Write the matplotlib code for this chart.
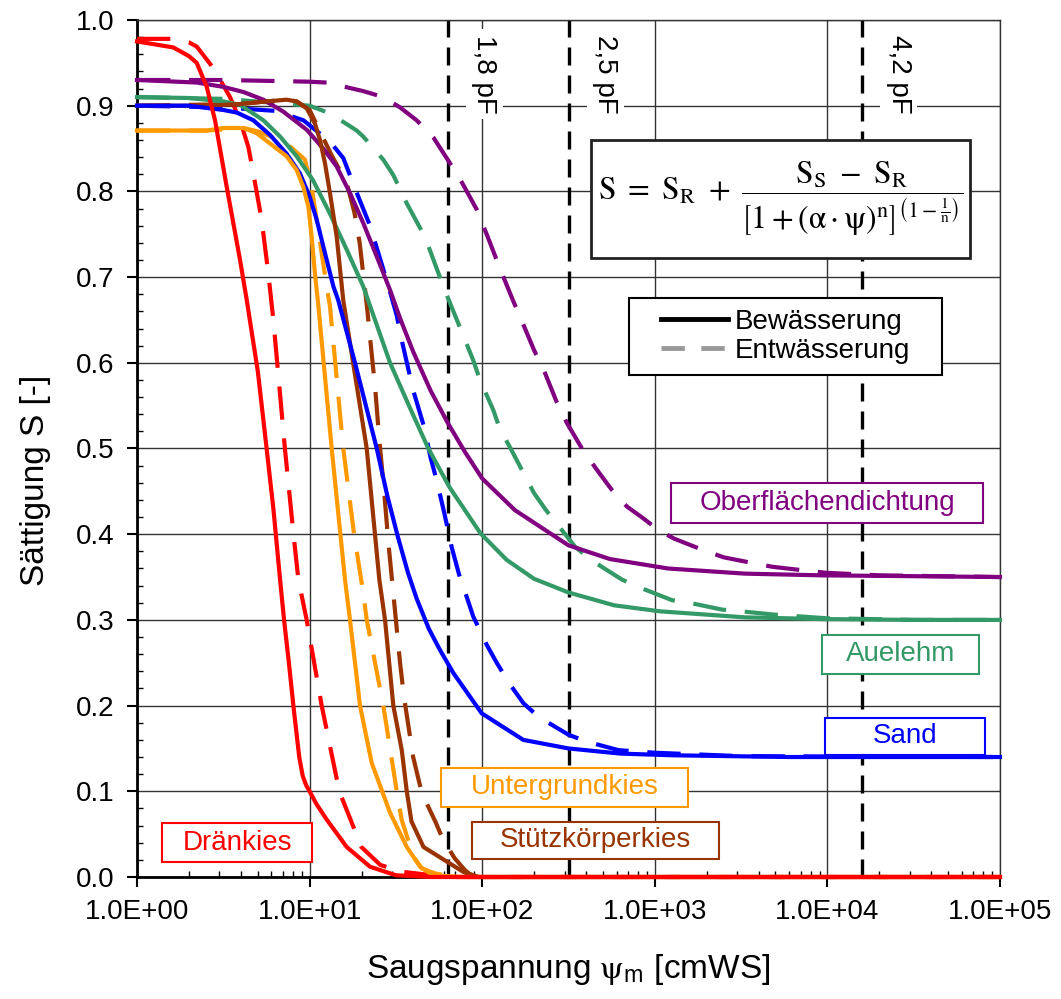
import numpy as np
import matplotlib
matplotlib.use('Agg')
import matplotlib.pyplot as plt
from matplotlib.patches import Rectangle
from matplotlib.lines import Line2D
from matplotlib.ticker import FuncFormatter, LogLocator, MultipleLocator, NullFormatter

plt.rcParams['font.family'] = ['Liberation Sans', 'DejaVu Sans']

# ---------------- data (pF = log10 of suction in cmWS, S = saturation) ----------------
draen_bew_pf = [0, .21, .30, .346, .404, .452, .52, .597, .636, .70, .751, .79, .829, .852, .88, .906, .92, .94, .96, .98, 1.0, 1.04, 1.099, 1.215, 1.35, 1.50, 1.7, 5.0]
draen_bew_s = [.975, .968, .958, .95, .922, .883, .805, .72, .673, .59, .50, .43, .347, .30, .25, .20, .175, .14, .118, .107, .10, .085, .067, .035, .012, .002, 0, 0]
draen_ent_pf = [0, .21, .30, .346, .423, .471, .539, .597, .645, .674, .722, .761, .79, .857, .906, .935, .983, 1.07, 1.172, 1.30, 1.41, 1.54, 1.8, 5.0]
draen_ent_s = [.978, .978, .974, .969, .949, .934, .91, .883, .852, .821, .767, .704, .65, .50, .401, .347, .30, .20, .10, .035, .014, .006, 0, 0]

unter_bew_pf = [0, .404, .50, .616, .693, .77, .867, .925, .964, .993, 1.012, 1.031, 1.05, 1.128, 1.205, 1.234, 1.292, 1.36, 1.466, 1.563, 1.64, 1.715, 1.9, 5.0]
unter_bew_s = [.871, .871, .874, .874, .868, .856, .841, .825, .805, .782, .747, .704, .668, .50, .347, .30, .20, .133, .075, .035, .012, .002, 0, 0]
unter_ent_pf = [0, .404, .616, .70, .80, .867, .973, 1.012, 1.07, 1.099, 1.118, 1.195, 1.257, 1.311, 1.331, 1.427, 1.505, 1.533, 1.601, 1.65, 1.73, 1.85, 5.0]
unter_ent_s = [.871, .871, .874, .870, .862, .856, .837, .805, .728, .689, .666, .50, .401, .331, .30, .20, .10, .067, .024, .01, .004, 0, 0]

stuetz_bew_pf = [0, .40, .60, .75, .867, .925, .983, 1.031, 1.06, 1.089, 1.118, 1.157, 1.195, 1.26, 1.331, 1.404, 1.437, 1.485, 1.534, 1.563, 1.59, 1.66, 1.795, 1.89, 1.98, 5.0]
stuetz_bew_s = [.90, .90, .902, .905, .907, .905, .897, .879, .86, .833, .798, .747, .673, .59, .50, .347, .30, .20, .148, .10, .065, .035, .018, .006, 0, 0]
stuetz_ent_pf = [0, .60, .75, .867, .925, 1.0, 1.06, 1.128, 1.215, 1.26, 1.29, 1.33, 1.35, 1.38, 1.404, 1.431, 1.456, 1.485, 1.524, 1.547, 1.60, 1.65, 1.73, 1.77, 1.84, 1.90, 1.95, 5.0]
stuetz_ent_s = [.90, .902, .905, .907, .905, .895, .87, .842, .81, .775, .74, .67, .63, .57, .51, .452, .391, .331, .25, .21, .14, .098, .064, .045, .022, .008, 0, 0]

sand_bew_pf = [0, .30, .50, .578, .674, .77, .867, .944, 1.0, 1.041, 1.089, 1.138, 1.166, 1.263, 1.389, 1.45, 1.51, 1.57, 1.62, 1.69, 1.755, 1.833, 1.997, 2.238, 2.50, 2.80, 3.107, 3.78, 5.0]
sand_bew_s = [.90, .90, .895, .892, .883, .866, .844, .821, .794, .767, .728, .689, .673, .60, .50, .445, .398, .355, .325, .29, .265, .238, .191, .16, .15, .144, .142, .14, .14]
sand_ent_pf = [0, .50, .80, .964, 1.118, 1.195, 1.27, 1.35, 1.40, 1.456, 1.505, 1.533, 1.60, 1.668, 1.70, 1.736, 1.78, 1.823, 1.87, 1.91, 1.948, 2.026, 2.084, 2.16, 2.238, 2.325, 2.50, 2.605, 2.79, 3.0, 3.5, 5.0]
sand_ent_s = [.90, .898, .894, .883, .858, .839, .80, .76, .727, .69, .655, .627, .568, .522, .49, .463, .425, .385, .35, .327, .304, .271, .25, .225, .203, .187, .166, .158, .148, .145, .141, .14]

auel_bew_pf = [0, .30, .50, .597, .732, .829, .925, 1.02, 1.118, 1.215, 1.311, 1.379, 1.466, 1.58, 1.688, 1.81, 1.99, 2.142, 2.30, 2.50, 2.765, 3.03, 3.52, 3.96, 4.5, 5.0]
auel_bew_s = [.91, .909, .905, .901, .883, .864, .841, .813, .774, .732, .689, .65, .60, .548, .50, .455, .401, .37, .348, .332, .317, .310, .303, .301, .30, .30]
auel_ent_pf = [0, .50, 1.0, 1.118, 1.273, 1.311, 1.427, 1.485, 1.563, 1.668, 1.707, 1.775, 1.813, 1.948, 1.987, 2.064, 2.10, 2.17, 2.30, 2.37, 2.54, 2.63, 2.81, 2.91, 3.10, 3.20, 3.39, 3.50, 3.70, 3.99, 4.5, 5.0]
auel_ent_s = [.91, .908, .90, .891, .871, .864, .837, .819, .786, .747, .726, .689, .67, .603, .58, .545, .524, .498, .448, .428, .385, .37, .347, .338, .323, .32, .312, .31, .306, .302, .30, .30]

ober_bew_pf = [0, .346, .50, .616, .732, .848, .983, 1.079, 1.157, 1.234, 1.311, 1.389, 1.466, 1.524, 1.60, 1.70, 1.80, 1.90, 2.0, 2.19, 2.50, 2.74, 3.076, 3.52, 3.96, 4.5, 5.0]
ober_bew_s = [.93, .927, .922, .916, .907, .893, .872, .85, .829, .798, .763, .724, .685, .652, .613, .568, .530, .496, .465, .428, .387, .371, .36, .354, .352, .351, .35]
ober_ent_pf = [0, .5, 1.0, 1.099, 1.311, 1.427, 1.524, 1.62, 1.717, 1.784, 1.87, 1.968, 2.03, 2.103, 2.18, 2.248, 2.30, 2.364, 2.43, 2.49, 2.584, 2.665, 2.75, 2.84, 2.93, 3.02, 3.11, 3.21, 3.30, 3.40, 3.50, 3.68, 3.81, 3.99, 4.3, 5.0]
ober_ent_s = [.93, .93, .928, .927, .917, .91, .898, .883, .863, .842, .815, .779, .748, .71, .672, .64, .615, .588, .555, .53, .498, .475, .452, .432, .419, .405, .395, .387, .38, .373, .369, .362, .359, .355, .352, .35]

soil_names = ['Oberflächendichtung', 'Auelehm', 'Stützkörperkies', 'Sand', 'Untergrundkies', 'Dränkies']
soil_colors = ['#800080', '#339966', '#993300', '#0000FF', '#FF9900', '#FF0000']
bew_curves = [(ober_bew_pf, ober_bew_s), (auel_bew_pf, auel_bew_s), (stuetz_bew_pf, stuetz_bew_s),
              (sand_bew_pf, sand_bew_s), (unter_bew_pf, unter_bew_s), (draen_bew_pf, draen_bew_s)]
ent_curves = [(ober_ent_pf, ober_ent_s), (auel_ent_pf, auel_ent_s), (stuetz_ent_pf, stuetz_ent_s),
              (sand_ent_pf, sand_ent_s), (unter_ent_pf, unter_ent_s), (draen_ent_pf, draen_ent_s)]

pf_marks = [1.8, 2.5, 4.2]
pf_labels = ['1,8 pF', '2,5 pF', '4,2 pF']

legend_labels = ['Bewässerung', 'Entwässerung']

# label boxes (axes fraction: x0, y0, x1, y1) in the same order as soil_names
label_boxes = [(.6188, .4131, .9803, .4597),
               (.7937, .2369, .9757, .2824),
               (.3882, .0210, .6744, .0642),
               (.7973, .1424, .9826, .1855),
               (.3523, .0817, .6385, .1272),
               (.0290, .0175, .2028, .0630)]

# ---------------- figure ----------------
fig = plt.figure(figsize=(10.61, 9.99), dpi=100)
ax = fig.add_axes([137/1061, 1-877/999, 863/1061, 857/999])
ax.set_xscale('log')
ax.set_xlim(1, 1e5)
ax.set_ylim(0, 1)

ax.grid(True, which='major', color='#333333', lw=1.0, zorder=0)
ax.set_axisbelow(True)

for (pf, s), col in zip(ent_curves, soil_colors):
    ax.plot(10**np.asarray(pf), s, color=col, lw=3, ls=(0, (8, 4.5)), clip_on=False, zorder=3,
            dash_capstyle='butt', dash_joinstyle='round')
for (pf, s), col in zip(bew_curves, soil_colors):
    ax.plot(10**np.asarray(pf), s, color=col, lw=3, ls='-', clip_on=False, zorder=3.5,
            solid_joinstyle='round')

for pf, lab in zip(pf_marks, pf_labels):
    ax.axvline(10**pf, color='black', lw=2.4, ls=(0, (5.4, 3)), zorder=2.5)
    ax.annotate(lab, xy=(10**pf, 0.983), xycoords=('data', 'axes fraction'),
                xytext=(17, 0), textcoords='offset points', rotation=270,
                ha='left', va='top', fontsize=20, zorder=4,
                bbox=dict(boxstyle='square,pad=0.2', fc='white', ec='none'))

for name, col, (x0, y0, x1, y1) in zip(soil_names, soil_colors, label_boxes):
    ax.add_patch(Rectangle((x0, y0), x1-x0, y1-y0, transform=ax.transAxes,
                           fc='white', ec=col, lw=1.5, zorder=5))
    ax.text((x0+x1)/2, (y0+y1)/2, name, transform=ax.transAxes, color=col,
            fontsize=20, ha='center', va='center', zorder=6)

# formula box
fx0, fy0, fx1, fy1 = .526, .7223, .9652, .86
ax.add_patch(Rectangle((fx0, fy0), fx1-fx0, fy1-fy0, transform=ax.transAxes,
                       fc='white', ec='#222222', lw=2, zorder=5))
formula = (r'$\mathrm{S}\ =\ \mathrm{S}_{\mathrm{R}}\ +\ '
           r'\dfrac{\mathrm{S}_{\mathrm{S}}\ -\ \mathrm{S}_{\mathrm{R}}}'
           r'{\left[\mathrm{1}+\left(\mathrm{α}\cdot\mathrm{ψ}\right)^{\mathrm{n}}\right]^{\left(1-\frac{1}{\mathrm{n}}\right)}}$')
ax.text((fx0+fx1)/2, (fy0+fy1)/2, formula, transform=ax.transAxes, fontsize=22.8,
        ha='center', va='center', zorder=6, math_fontfamily='stix')

# legend box
lx0, ly0, lx1, ly1 = .5701, .5858, .9328, .6756
ax.add_patch(Rectangle((lx0, ly0), lx1-lx0, ly1-ly0, transform=ax.transAxes,
                       fc='white', ec='black', lw=1.5, zorder=5))
handles = [Line2D([], [], color='black', lw=3.5),
           Line2D([], [], color='#999999', lw=3.5, ls=(0, (4.8, 3.4)))]
leg = ax.legend(handles, legend_labels, loc='center', bbox_to_anchor=((lx0+lx1)/2, (ly0+ly1)/2),
                frameon=False, fontsize=20, handlelength=2.4, handletextpad=0.25,
                labelspacing=0.1, borderpad=0, borderaxespad=0)
leg.set_zorder(7)

ax.xaxis.set_major_locator(LogLocator(base=10, numticks=10))
ax.xaxis.set_minor_locator(LogLocator(base=10, subs=np.arange(2, 10), numticks=20))
ax.xaxis.set_minor_formatter(NullFormatter())
ax.xaxis.set_major_formatter(FuncFormatter(lambda v, p: f'{v:.1E}'))
ax.yaxis.set_major_locator(MultipleLocator(0.1))
ax.yaxis.set_minor_locator(MultipleLocator(0.02))
ax.yaxis.set_major_formatter(FuncFormatter(lambda v, p: f'{v:.1f}'))
ax.tick_params(which='major', direction='out', length=7, width=1.5, labelsize=20, pad=9)
ax.tick_params(which='minor', direction='in', length=4, width=1)

for sp in ['left', 'bottom']:
    ax.spines[sp].set_linewidth(2)
for sp in ['top', 'right']:
    ax.spines[sp].set_linewidth(1)
    ax.spines[sp].set_color('#333333')

ax.set_xlabel(r'Saugspannung $\mathrm{ψ}_{\mathregular{m}}$ [cmWS]', fontsize=24, math_fontfamily='stix')
ax.xaxis.set_label_coords(0.5, -0.088)
ax.set_ylabel('Sättigung S [-]', fontsize=24)
ax.yaxis.set_label_coords(-0.10, 0.463)

fig.savefig('out.png', dpi=100)
